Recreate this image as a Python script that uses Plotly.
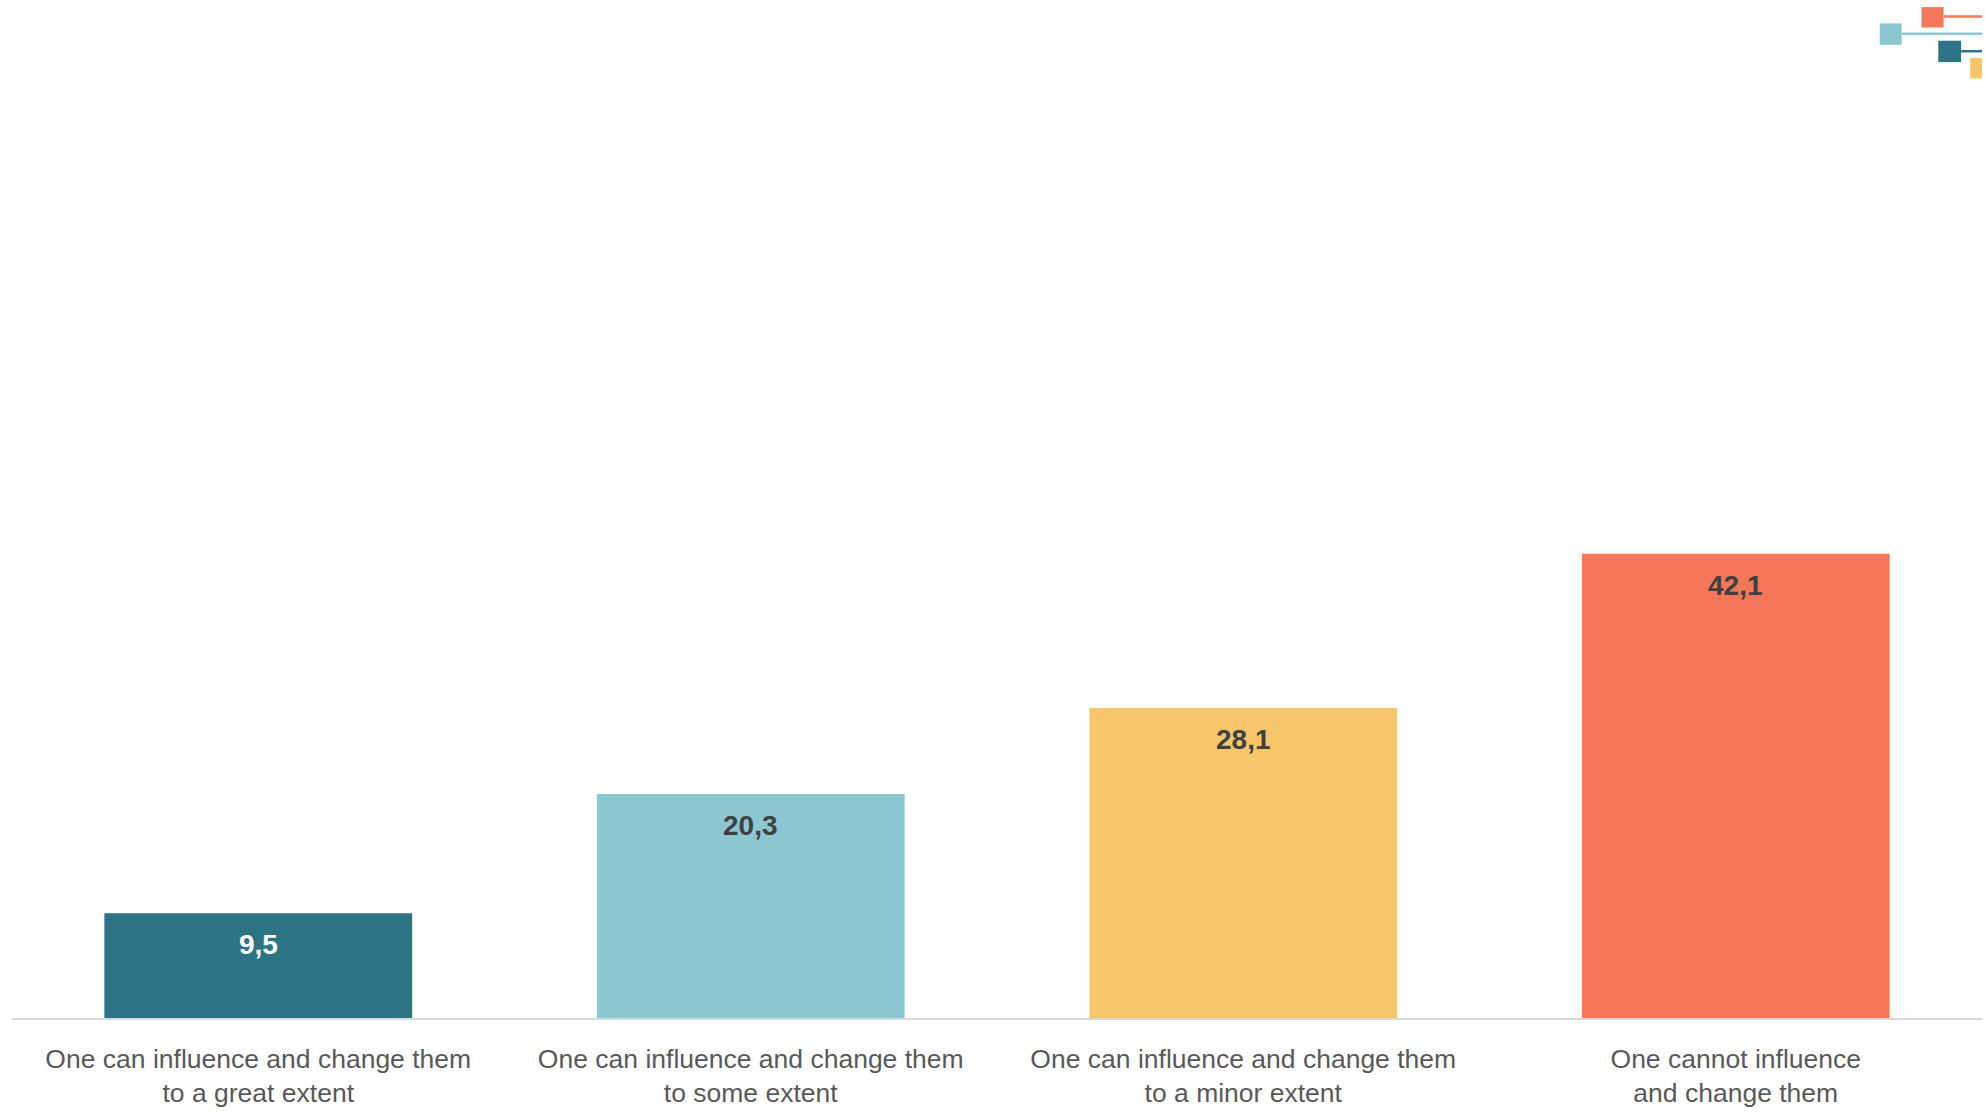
import plotly.graph_objects as go

categories = [
    "One can influence and change them<br>to a great extent",
    "One can influence and change them<br>to some extent",
    "One can influence and change them<br>to a minor extent",
    "One cannot influence<br>and change them",
]
values = [9.5, 20.3, 28.1, 42.1]
value_labels = ["9,5", "20,3", "28,1", "42,1"]
bar_colors = ["#2E7487", "#8BC6D1", "#F7C66B", "#F37758"]
text_colors = ["#FFFFFF", "#404040", "#404040", "#404040"]

FONT = "Liberation Sans Narrow, Arial Narrow, Liberation Sans, Arial, sans-serif"

fig = go.Figure()
fig.add_trace(go.Bar(
    x=categories,
    y=values,
    marker=dict(color=bar_colors, line=dict(width=0)),
    hoverinfo="skip",
))

for cat, val, lab, tc in zip(categories, values, value_labels, text_colors):
    fig.add_annotation(
        x=cat, y=val, xref="x", yref="y", text=f"<b>{lab}</b>",
        showarrow=False, yanchor="top", yshift=-14,
        font=dict(family=FONT, size=28, color=tc),
    )

# decorative legend-like squares in the top-right corner
deco = [
    ("#F37758", 0.9693, 0.9805, 0.973, 0.993, 0.9838),
    ("#8BC6D1", 0.9481, 0.9592, 0.956, 0.977, 0.9668),
    ("#2E7487", 0.9778, 0.9894, 0.939, 0.960, 0.9497),
    ("#F7C66B", 0.9940, 1.0000, 0.923, 0.943, None),
]
shapes = []
for col, x0, x1, y0, y1, ly in deco:
    shapes.append(dict(type="rect", xref="paper", yref="paper", x0=x0, x1=x1, y0=y0, y1=y1,
                       fillcolor=col, line=dict(width=0), layer="above"))
    if ly is not None:
        shapes.append(dict(type="line", xref="paper", yref="paper", x0=x1, x1=1.0, y0=ly, y1=ly,
                           line=dict(color=col, width=2.5), layer="above"))

fig.update_layout(
    width=1985,
    height=1113,
    margin=dict(l=12, r=3, t=0, b=95),
    paper_bgcolor="#FFFFFF",
    plot_bgcolor="#FFFFFF",
    bargap=0.375,
    showlegend=False,
    font=dict(family=FONT, color="#595959"),
    xaxis=dict(
        showline=True, linecolor="#D9D9D9", linewidth=2,
        showgrid=False, ticks="", tickfont=dict(family=FONT, size=26.5, color="#595959"),
        ticklabelstandoff=16,
    ),
    yaxis=dict(range=[0, 92.3], visible=False, showgrid=False, zeroline=False),
    shapes=shapes,
)

fig.write_html("out.html", config={"displayModeBar": False},
               post_script="document.body.style.margin='0px';")
